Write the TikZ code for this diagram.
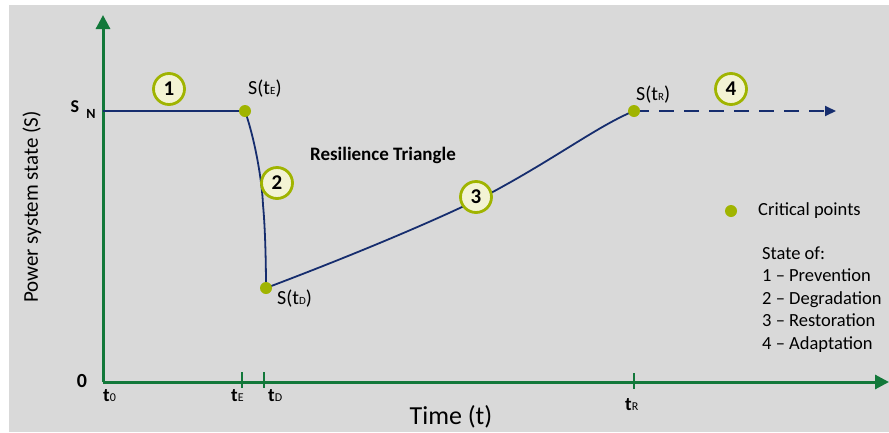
\documentclass[tikz,border=0pt]{standalone}
\usepackage{fontspec}
\setmainfont{Carlito}
\usetikzlibrary{arrows.meta}
\definecolor{axisgreen}{RGB}{18,120,58}
\definecolor{navy}{RGB}{22,45,110}
\definecolor{olive}{RGB}{160,180,0}
\definecolor{cream}{RGB}{243,243,212}
\definecolor{bg}{RGB}{217,217,217}
\newcommand{\fs}[1]{\fontsize{#1}{#1}\selectfont}
\begin{document}
\begin{tikzpicture}[x=1pt,y=-1pt,
  axis/.style={draw=axisgreen,line width=3pt,-{Triangle[length=14pt,width=14pt]}},
  tickmark/.style={draw=axisgreen,line width=2.5pt},
  curve/.style={draw=navy,line width=1.8pt},
  crit/.style={circle,fill=olive,inner sep=0pt,minimum size=12pt},
  phase/.style={circle,draw=olive,line width=2.8pt,fill=cream,minimum size=31pt,inner sep=0pt,font=\fs{21}\bfseries},
  lbl/.style={font=\fs{20},inner sep=0pt},
  ticklbl/.style={font=\fs{19}\bfseries,inner sep=0pt,anchor=base west}]
\useasboundingbox (0,0) rectangle (889,432);
\fill[white] (0,0) rectangle (889,432);
\fill[bg] (9,5) rectangle (889,432);
% axes
\coordinate (O) at (103,382);
\coordinate (ytip) at (103,15);
\coordinate (xtip) at (889,382);
\draw[axis] (O) -- (ytip);
\draw[axis] (O) -- (xtip);
% ticks
\coordinate (tEa) at (242,372); \coordinate (tEb) at (242,388);
\coordinate (tDa) at (264,372); \coordinate (tDb) at (264,388);
\coordinate (tRa) at (634,373); \coordinate (tRb) at (634,389);
\draw[tickmark] (tEa) -- (tEb);
\draw[tickmark] (tDa) -- (tDb);
\draw[tickmark] (tRa) -- (tRb);
% key points
\coordinate (SN) at (103,111);
\coordinate (pE) at (245,111);
\coordinate (pD) at (266,288);
\coordinate (pR) at (634,111);
\coordinate (arr) at (836,111);
% curves
\draw[curve] (SN) -- (pE);
\draw[curve] (pE) .. controls (255,140) and (262,180) .. (263,205) .. controls (265,225) and (266,260) .. (pD);
\draw[curve] (pD) .. controls (380,245) and (470,205) .. (500,188) .. controls (560,155) and (600,125) .. (pR);
\draw[curve,dash pattern=on 15pt off 10pt,-{Triangle[length=11pt,width=10pt]}] (pR) -- (arr);
% critical points
\node[crit] (E) at (pE) {};
\node[crit] (D) at (pD) {};
\node[crit] (R) at (pR) {};
% phase circles
\node[phase] (c1) at (169,89) {1};
\node[phase] (c2) at (277,183) {2};
\node[phase] (c3) at (476,197) {3};
\node[phase] (c4) at (731,89) {4};
% point labels
\node[lbl,anchor=base west] (lE) at (248,94) {S(t{\fs{11}E})};
\node[lbl,anchor=base west] (lD) at (277,304) {S(t{\fs{11}D})};
\node[lbl,anchor=base west] (lR) at (636,100) {S(t{\fs{11}R})};
% axis labels
\node[font=\fs{18}\bfseries,inner sep=0pt] (S) at (75,107) {S};
\node[font=\fs{14}\bfseries,inner sep=0pt] (N) at (91,114) {N};
\node[font=\fs{20}\bfseries,inner sep=0pt] (zero) at (82,381) {0};
\node[ticklbl] (t0) at (103,401) {t{\fs{12}\mdseries 0}};
\node[ticklbl] (tE) at (231,401) {t{\fs{12}\mdseries E}};
\node[ticklbl] (tD) at (268,401) {t{\fs{12}\mdseries D}};
\node[ticklbl] (tR) at (625,410) {t{\fs{12}\mdseries R}};
\node[font=\fs{26},inner sep=0pt] (time) at (451,417) {Time (t)};
\node[font=\fs{21},inner sep=0pt,rotate=90] (state) at (32,207) {Power system state (S)};
\node[font=\fs{19}\bfseries,inner sep=0pt] (tri) at (383,155) {Resilience Triangle};
% legend
\node[crit] (leg) at (731,211) {};
\node[font=\fs{18.5},inner sep=0pt,anchor=west] (legt) at (758,211) {Critical points};
\node[inner sep=0pt,anchor=base west,align=left,font=\fontsize{18.5}{22.5}\selectfont] (states) at (762,349) {State of:\\1 – Prevention\\2 – Degradation\\3 – Restoration\\4 – Adaptation};
\end{tikzpicture}
\end{document}
